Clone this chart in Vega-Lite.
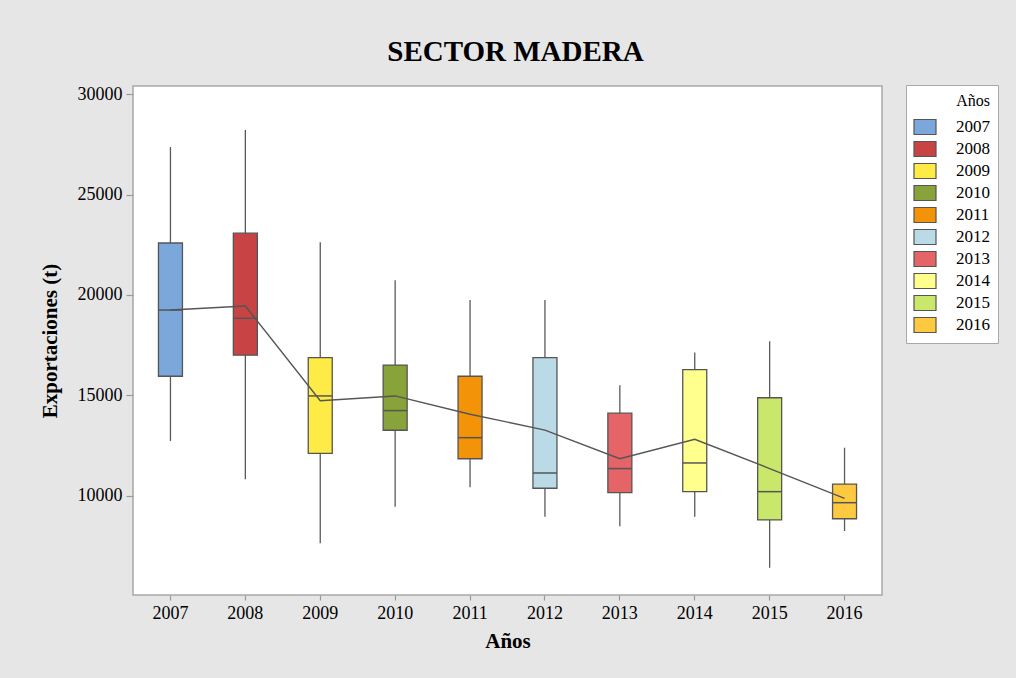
{
  "$schema": "https://vega.github.io/schema/vega-lite/v6.json",
  "width": 749,
  "height": 509,
  "autosize": {"type": "none"},
  "padding": {"left": 133, "top": 86, "right": 134, "bottom": 83},
  "background": "#e6e6e6",
  "title": {
    "text": "SECTOR MADERA",
    "font": "Liberation Serif",
    "fontSize": 29,
    "fontWeight": "bold",
    "color": "black",
    "anchor": "middle",
    "frame": "group",
    "dx": 8,
    "offset": 18
  },
  "config": {
    "view": {"fill": "white", "stroke": "#a8a8a8", "strokeWidth": 1.5},
    "axis": {
      "labelFont": "Liberation Serif",
      "labelFontSize": 18,
      "labelColor": "black",
      "titleFont": "Liberation Serif",
      "titleFontSize": 21,
      "titleFontWeight": "bold",
      "titleColor": "black",
      "tickColor": "#9a9a9a",
      "tickWidth": 1.2,
      "domain": false,
      "grid": false
    }
  },
  "data": {
    "values": [
      {"year": "2007", "min": 12730, "q1": 15950, "median": 19250, "q3": 22590, "max": 27380, "mean": 19250},
      {"year": "2008", "min": 10820, "q1": 17000, "median": 18840, "q3": 23080, "max": 28220, "mean": 19450},
      {"year": "2009", "min": 7630, "q1": 12110, "median": 14970, "q3": 16880, "max": 22630, "mean": 14730},
      {"year": "2010", "min": 9450, "q1": 13260, "median": 14240, "q3": 16510, "max": 20730, "mean": 14970},
      {"year": "2011", "min": 10420, "q1": 11840, "median": 12890, "q3": 15950, "max": 19750, "mean": 14060},
      {"year": "2012", "min": 8950, "q1": 10370, "median": 11130, "q3": 16880, "max": 19750, "mean": 13270},
      {"year": "2013", "min": 8480, "q1": 10150, "median": 11350, "q3": 14110, "max": 15500, "mean": 11840},
      {"year": "2014", "min": 8950, "q1": 10200, "median": 11630, "q3": 16280, "max": 17130, "mean": 12810},
      {"year": "2015", "min": 6410, "q1": 8790, "median": 10200, "q3": 14880, "max": 17690, "mean": 11350},
      {"year": "2016", "min": 8240, "q1": 8850, "median": 9650, "q3": 10580, "max": 12390, "mean": 9870}
    ]
  },
  "encoding": {
    "x": {
      "field": "year",
      "type": "nominal",
      "scale": {"paddingInner": 0, "paddingOuter": 0},
      "axis": {"title": "Años", "labelAngle": 0, "tickSize": 5, "labelPadding": 4, "titlePadding": 8}
    }
  },
  "layer": [
    {
      "mark": {"type": "rule", "color": "#5a5a5a", "strokeWidth": 1.3},
      "encoding": {
        "y": {
          "field": "min",
          "type": "quantitative",
          "scale": {"domain": [5050, 30415], "nice": false, "zero": false},
          "axis": {
            "title": "Exportaciones (t)",
            "values": [10000, 15000, 20000, 25000, 30000],
            "format": "d",
            "tickSize": 7,
            "labelPadding": 4,
            "titlePadding": 17
          }
        },
        "y2": {"field": "max"}
      }
    },
    {
      "mark": {"type": "bar", "size": 24, "stroke": "#555555", "strokeWidth": 1.3},
      "encoding": {
        "y": {"field": "q1", "type": "quantitative"},
        "y2": {"field": "q3"},
        "color": {
          "field": "year",
          "type": "nominal",
          "scale": {
            "domain": ["2007", "2008", "2009", "2010", "2011", "2012", "2013", "2014", "2015", "2016"],
            "range": ["#7BA7DA", "#C84444", "#FFEB45", "#88A33A", "#F39408", "#BBDAE7", "#E46468", "#FFFF8E", "#C9E86B", "#FDC940"]
          },
          "legend": {
            "title": "Años",
            "orient": "none",
            "legendX": 773,
            "legendY": -1,
            "padding": 8,
            "fillColor": "white",
            "strokeColor": "#a8a8a8",
            "titleFont": "Liberation Serif",
            "titleFontSize": 16,
            "titleFontWeight": "normal",
            "titleColor": "black",
            "titleAnchor": "end",
            "titlePadding": 7,
            "labelFont": "Liberation Serif",
            "labelFontSize": 17,
            "labelColor": "black",
            "labelOffset": 20,
            "symbolType": "M-1.1,-0.75H1.1V0.75H-1.1Z",
            "symbolSize": 400,
            "symbolStrokeColor": "#555555",
            "symbolStrokeWidth": 1.2,
            "symbolOpacity": 1,
            "rowPadding": 1
          }
        }
      }
    },
    {
      "mark": {"type": "tick", "size": 24, "thickness": 1.5, "color": "#555555", "opacity": 1},
      "encoding": {"y": {"field": "median", "type": "quantitative"}}
    },
    {
      "mark": {"type": "line", "color": "#555555", "strokeWidth": 1.4},
      "encoding": {"y": {"field": "mean", "type": "quantitative"}}
    }
  ]
}
